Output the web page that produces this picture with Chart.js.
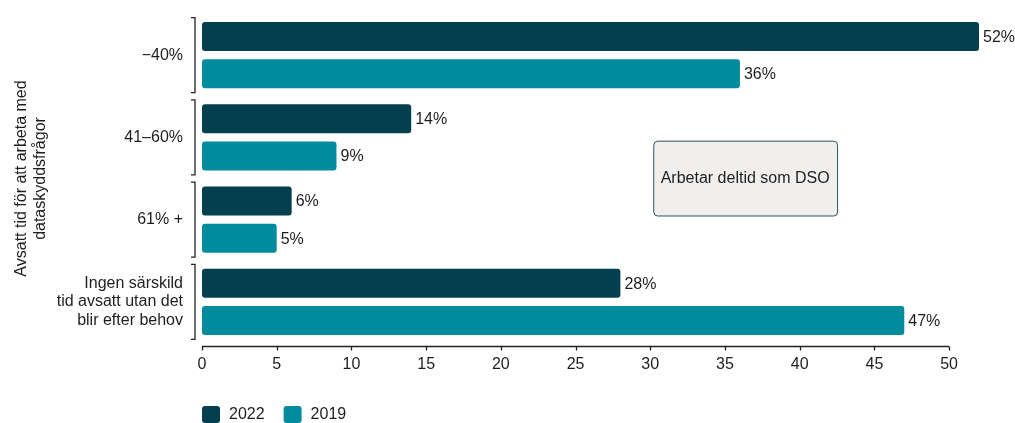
<!DOCTYPE html>
<html>
<head>
<meta charset="utf-8">
<script src="https://cdn.jsdelivr.net/npm/chart.js@4/dist/chart.umd.min.js"></script>
<style>
  html, body { margin: 0; padding: 0; background: #fff; }
  #wrap { width: 1015px; height: 423px; position: relative; }
</style>
</head>
<body>
<div id="wrap"><canvas id="chart"></canvas></div>
<script>
const categories = [
  '\u221240%',
  '41\u201360%',
  '61% +',
  ['Ingen s\u00e4rskild', 'tid avsatt utan det', 'blir efter behov'],
];
const values2022 = [52, 14, 6, 28];
const values2019 = [36, 9, 5, 47];
const seriesLabels = ['2022', '2019'];
const xTicks = [0, 5, 10, 15, 20, 25, 30, 35, 40, 45, 50];
const axisTitle = ['Avsatt tid f\u00f6r att arbeta med', 'dataskyddsfr\u00e5gor'];
const noteText = 'Arbetar deltid som DSO';

const DARK = '#033f4e';
const TEAL = '#008c9c';
const TEXT = '#1e1e1e';
const FONT = "'Liberation Sans', Arial, sans-serif";

// value labels, brackets, x axis line, note box and legend
const extras = {
  id: 'extras',
  afterDatasetsDraw(chart) {
    const ctx = chart.ctx;
    const area = chart.chartArea;
    const x = chart.scales.x;
    const y = chart.scales.y;
    ctx.save();
    ctx.font = '16px ' + FONT;
    ctx.fillStyle = TEXT;
    ctx.textBaseline = 'middle';
    ctx.textAlign = 'left';
    chart.data.datasets.forEach((ds, i) => {
      chart.getDatasetMeta(i).data.forEach((bar, j) => {
        ctx.fillText(ds.data[j] + '%', bar.x + 4, bar.y + 1);
      });
    });

    // brackets per category
    const band = (y.bottom - y.top) / categories.length;
    ctx.strokeStyle = '#222';
    ctx.lineWidth = 1.3;
    categories.forEach((c, i) => {
      const cy = y.getPixelForValue(i);
      const top = cy - band * 0.457;
      const bot = cy + band * 0.457;
      const bx = area.left - 7;
      ctx.beginPath();
      ctx.moveTo(bx - 4, top);
      ctx.lineTo(bx, top);
      ctx.lineTo(bx, bot);
      ctx.lineTo(bx - 4, bot);
      ctx.stroke();
    });

    // x axis line from 0 to 50 with ticks
    const ay = area.bottom + 3.5;
    ctx.beginPath();
    ctx.moveTo(x.getPixelForValue(xTicks[0]), ay);
    ctx.lineTo(x.getPixelForValue(xTicks[xTicks.length - 1]), ay);
    xTicks.forEach(t => {
      const px = Math.round(x.getPixelForValue(t)) + 0.5;
      ctx.moveTo(px, ay);
      ctx.lineTo(px, ay + 4);
    });
    ctx.stroke();

    // note box
    const bx1 = x.getPixelForValue(30.2);
    const bx2 = x.getPixelForValue(42.5);
    const by1 = y.getPixelForValue(1.04);
    const by2 = y.getPixelForValue(1.95);
    ctx.beginPath();
    ctx.roundRect(bx1 + 0.5, by1 + 0.5, bx2 - bx1, by2 - by1, 4);
    ctx.fillStyle = '#f0efee';
    ctx.fill();
    ctx.strokeStyle = '#2d5560';
    ctx.lineWidth = 1;
    ctx.stroke();
    ctx.fillStyle = TEXT;
    ctx.textAlign = 'center';
    ctx.fillText(noteText, (bx1 + bx2) / 2, (by1 + by2) / 2 + 1);

    // legend
    const colors = [DARK, TEAL];
    let lx = area.left;
    const ly = 406;
    ctx.textAlign = 'left';
    seriesLabels.forEach((lab, i) => {
      ctx.beginPath();
      ctx.roundRect(lx, ly, 18, 17, 3);
      ctx.fillStyle = colors[i];
      ctx.fill();
      ctx.fillStyle = TEXT;
      ctx.fillText(lab, lx + 27, ly + 9);
      lx += 27 + ctx.measureText(lab).width + 19;
    });
    ctx.restore();
  },
};

new Chart(document.getElementById('chart'), {
  type: 'bar',
  data: {
    labels: categories,
    datasets: [
      {
        label: seriesLabels[0],
        data: values2022,
        backgroundColor: DARK,
        borderRadius: 3,
        borderSkipped: false,
        barPercentage: 0.775,
        categoryPercentage: 0.909,
      },
      {
        label: seriesLabels[1],
        data: values2019,
        backgroundColor: TEAL,
        borderRadius: 3,
        borderSkipped: false,
        barPercentage: 0.775,
        categoryPercentage: 0.909,
      },
    ],
  },
  options: {
    indexAxis: 'y',
    responsive: true,
    maintainAspectRatio: false,
    animation: false,
    layout: { padding: { top: 14, right: 36, left: 0, bottom: 0 } },
    plugins: {
      legend: { display: false },
      tooltip: { enabled: false },
    },
    scales: {
      x: {
        min: 0,
        max: 52,
        grid: { display: false, drawTicks: false },
        border: { display: false },
        afterFit: (scale) => {
          scale.height = 80;
          scale.paddingLeft = 0;
          scale.paddingRight = 0;
        },
        afterBuildTicks: (scale) => {
          scale.ticks = xTicks.map(v => ({ value: v }));
        },
        ticks: {
          padding: 12,
          color: TEXT,
          font: { family: FONT, size: 16 },
        },
      },
      y: {
        grid: { display: false, drawTicks: false },
        border: { display: false },
        afterFit: (scale) => {
          scale.width = 202;
          scale.paddingTop = 0;
          scale.paddingBottom = 0;
        },
        ticks: {
          padding: 19,
          color: TEXT,
          font: { family: FONT, size: 16, lineHeight: 1.15 },
        },
        title: {
          display: true,
          text: axisTitle,
          color: TEXT,
          font: { family: FONT, size: 16, lineHeight: 1.2 },
          padding: { top: 12, bottom: 0 },
        },
      },
    },
  },
  plugins: [extras],
});
</script>
</body>
</html>
